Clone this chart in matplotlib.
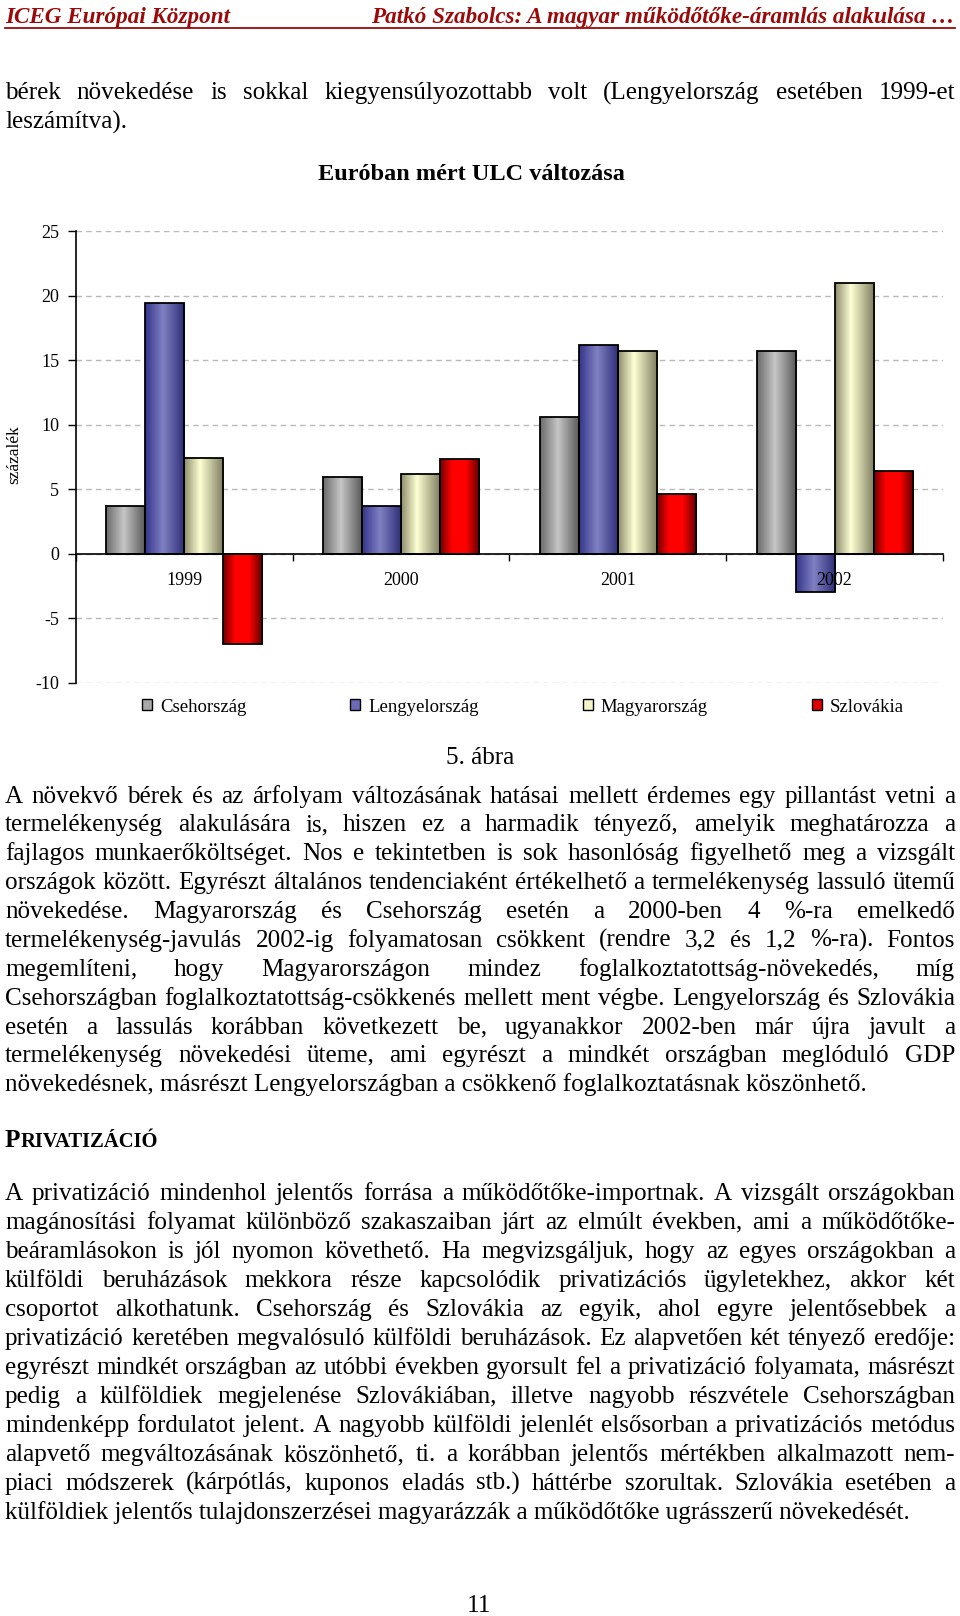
import numpy as np
import matplotlib
matplotlib.use("Agg")
import matplotlib.pyplot as plt
from matplotlib.colors import LinearSegmentedColormap
from matplotlib.patches import Patch

# ---------------- data ----------------
years = ["1999", "2000", "2001", "2002"]
countries = ["Csehország", "Lengyelország", "Magyarország", "Szlovákia"]
csehorszag = [3.7, 5.9, 10.6, 15.7]
lengyelorszag = [19.4, 3.7, 16.2, -3.0]
magyarorszag = [7.4, 6.2, 15.7, 21.0]
szlovakia = [-7.0, 7.3, 4.6, 6.4]
yticks = [-10, -5, 0, 5, 10, 15, 20, 25]
chart_title = "Euróban mért ULC változása"
ylabel = "százalék"

header_left = "ICEG Európai Központ"
header_right = "Patkó Szabolcs: A magyar működőtőke-áramlás alakulása …"

para0 = [
    "bérek növekedése is sokkal kiegyensúlyozottabb volt (Lengyelország esetében 1999-et",
    "leszámítva).",
]
caption = "5. ábra"
para1 = [
    "A növekvő bérek és az árfolyam változásának hatásai mellett érdemes egy pillantást vetni a",
    "termelékenység alakulására is, hiszen ez a harmadik tényező, amelyik meghatározza a",
    "fajlagos munkaerőköltséget. Nos e tekintetben is sok hasonlóság figyelhető meg a vizsgált",
    "országok között. Egyrészt általános tendenciaként értékelhető a termelékenység lassuló ütemű",
    "növekedése. Magyarország és Csehország esetén a 2000-ben 4 %-ra emelkedő",
    "termelékenység-javulás 2002-ig folyamatosan csökkent (rendre 3,2 és 1,2 %-ra). Fontos",
    "megemlíteni, hogy Magyarországon mindez foglalkoztatottság-növekedés, míg",
    "Csehországban foglalkoztatottság-csökkenés mellett ment végbe. Lengyelország és Szlovákia",
    "esetén a lassulás korábban következett be, ugyanakkor 2002-ben már újra javult a",
    "termelékenység növekedési üteme, ami egyrészt a mindkét országban meglóduló GDP",
    "növekedésnek, másrészt Lengyelországban a csökkenő foglalkoztatásnak köszönhető.",
]
heading_first = "P"
heading_rest = "RIVATIZÁCIÓ"
para2 = [
    "A privatizáció mindenhol jelentős forrása a működőtőke-importnak. A vizsgált országokban",
    "magánosítási folyamat különböző szakaszaiban járt az elmúlt években, ami a működőtőke-",
    "beáramlásokon is jól nyomon követhető. Ha megvizsgáljuk, hogy az egyes országokban a",
    "külföldi beruházások mekkora része kapcsolódik privatizációs ügyletekhez, akkor két",
    "csoportot alkothatunk. Csehország és Szlovákia az egyik, ahol egyre jelentősebbek a",
    "privatizáció keretében megvalósuló külföldi beruházások. Ez alapvetően két tényező eredője:",
    "egyrészt mindkét országban az utóbbi években gyorsult fel a privatizáció folyamata, másrészt",
    "pedig a külföldiek megjelenése Szlovákiában, illetve nagyobb részvétele Csehországban",
    "mindenképp fordulatot jelent. A nagyobb külföldi jelenlét elsősorban a privatizációs metódus",
    "alapvető megváltozásának köszönhető, ti. a korábban jelentős mértékben alkalmazott nem-",
    "piaci módszerek (kárpótlás, kuponos eladás stb.) háttérbe szorultak. Szlovákia esetében a",
    "külföldiek jelentős tulajdonszerzései magyarázzák a működőtőke ugrásszerű növekedését.",
]
page_number = "11"

# ---------------- style ----------------
SERIF = "Liberation Serif"
plt.rcParams["font.family"] = [SERIF, "DejaVu Serif"]
HEAD_COLOR = "#9a0a0a"
series = [csehorszag, lengyelorszag, magyarorszag, szlovakia]
mid_colors = ["#a8a8a8", "#6a6ab8", "#f4f4c8", "#e00000"]
grad_stops = [
    [(0, "#6a6a6a"), (0.45, "#c6c6c6"), (1, "#555555")],
    [(0, "#34348a"), (0.45, "#8080c4"), (1, "#2c2c76")],
    [(0, "#8c8c6c"), (0.4, "#ffffd4"), (1, "#7a7a5c")],
    [(0, "#700000"), (0.3, "#ff0000"), (0.65, "#ff0000"), (1, "#5a0000")],
]

W, H = 960, 1616
fig = plt.figure(figsize=(W / 100, H / 100), dpi=100)
fig.patch.set_facecolor("white")
page = fig.add_axes([0, 0, 1, 1])
page.set_xlim(0, W)
page.set_ylim(H, 0)
page.axis("off")
renderer = fig.canvas.get_renderer()


def text_width(s, size, weight="normal", style="normal"):
    t = page.text(0, 0, s, fontsize=size, weight=weight, style=style)
    w = t.get_window_extent(renderer).width
    t.remove()
    return w


X0, X1 = 5, 955
BODY = 20 * 863 / text_width(para1[-1], 20)
BASE_OFF = 0.30 * BODY * 100 / 72


def draw_line(s, yc, justify):
    yb = yc + BASE_OFF
    if not justify:
        page.text(X0, yb, s, fontsize=BODY, va="baseline", ha="left")
        return
    words = s.split(" ")
    widths = [text_width(w, BODY) for w in words]
    gap = (X1 - X0 - sum(widths)) / (len(words) - 1)
    x = X0
    for w, wd in zip(words, widths):
        page.text(x, yb, w, fontsize=BODY, va="baseline", ha="left")
        x += wd + gap


def draw_para(lines, y0, step):
    for i, s in enumerate(lines):
        draw_line(s, y0 + i * step, i < len(lines) - 1)


# header
HSIZE = 20 * 584 / text_width(header_right, 20, "bold", "italic")
page.text(X0, 16 + 0.3 * HSIZE * 100 / 72, header_left, fontsize=HSIZE, weight="bold",
          style="italic", color=HEAD_COLOR, va="baseline")
page.text(X1, 16 + 0.3 * HSIZE * 100 / 72, header_right, fontsize=HSIZE, weight="bold",
          style="italic", color=HEAD_COLOR, va="baseline", ha="right")
page.plot([X0, X1], [28, 28], color=HEAD_COLOR, lw=1.3)

draw_para(para0, 91.8, 28.87)
page.text(480, 756 + BASE_OFF, caption, fontsize=BODY, ha="center", va="baseline")
draw_para(para1, 795, 28.87)

# heading (small caps imitation)
hb = 1139 + BASE_OFF
page.text(X0, hb, heading_first, fontsize=BODY, weight="bold", va="baseline")
wp = text_width(heading_first, BODY, "bold")
page.text(X0 + wp, hb, heading_rest, fontsize=BODY * 0.82, weight="bold", va="baseline")

draw_para(para2, 1192, 29.05)
page.text(479, 1605 + BASE_OFF * 0.9, page_number, fontsize=BODY, ha="center", va="baseline")

# ---------------- chart ----------------
ax_left, ax_right, ax_top, ax_bot = 76, 943, 231, 682.6
ax = fig.add_axes([ax_left / W, 1 - ax_bot / H, (ax_right - ax_left) / W, (ax_bot - ax_top) / H])
ax.set_facecolor("none")

ncat = len(years)
x = np.arange(ncat) + 0.5
bw = 0.18
offsets = (np.arange(len(series)) - 1.5) * bw

for k, vals in enumerate(series):
    bars = ax.bar(x + offsets[k], vals, width=bw, color=mid_colors[k], zorder=2)
    cmap = LinearSegmentedColormap.from_list(f"g{k}", grad_stops[k])
    grad = np.linspace(0, 1, 256).reshape(1, -1)
    for p in bars.patches:
        bb = p.get_bbox()
        im = ax.imshow(grad, extent=(bb.x0, bb.x1, bb.y0, bb.y1), cmap=cmap,
                       aspect="auto", interpolation="bilinear", zorder=2.5)
        im.set_clip_path(p)
    ax.bar(x + offsets[k], vals, width=bw, fill=False, edgecolor="black", lw=1.3, zorder=3)

ax.set_aspect("auto")
ax.set_xlim(0, ncat)
ax.set_ylim(-10, 25)

ax.spines["top"].set_visible(False)
ax.spines["right"].set_visible(False)
ax.spines["bottom"].set_position(("data", 0))
ax.spines["bottom"].set_zorder(4)
ax.spines["left"].set_linewidth(1.2)
ax.spines["bottom"].set_linewidth(1.2)

ax.set_yticks(yticks)
ax.set_yticklabels([str(v) for v in yticks])
ax.tick_params(axis="y", direction="out", length=6, width=1, pad=6, labelsize=13)

ax.set_xticks(np.arange(ncat + 1))
ax.set_xticklabels([])
ax.set_xticks(x, minor=True)
ax.set_xticklabels(years, minor=True)
ax.tick_params(axis="x", which="major", direction="out", length=5, width=1)
ax.tick_params(axis="x", which="minor", length=0, pad=13, labelsize=13)

ax.set_axisbelow(True)
ax.yaxis.grid(True, linestyle=(0, (4, 3)), color="#b8b8b8", lw=1)
ax.xaxis.set_zorder(5)

ax.set_ylabel(ylabel, fontsize=12.5)
ax.yaxis.set_label_coords((22 - ax_left) / (ax_right - ax_left), (ax_bot - 455) / (ax_bot - ax_top))

TSIZE = 20 * 306 / text_width(chart_title, 20, "bold")
fig.text(471 / W, 1 - 175 / H, chart_title, fontsize=TSIZE, weight="bold", ha="center", va="center")

LEG = 13.5
fpx = LEG * 100 / 72
handles = [Patch(facecolor=c, edgecolor="black", lw=1) for c in mid_colors]
fig.legend(handles, countries, ncol=4, loc="center left",
           bbox_to_anchor=(142 / W, 1 - 707 / H), frameon=False,
           prop={"family": SERIF, "size": LEG}, handlelength=10 / fpx, handleheight=10 / fpx,
           handletextpad=8 / fpx, columnspacing=104 / fpx, borderaxespad=0, borderpad=0)

fig.savefig("out.png", dpi=100, facecolor="white")
